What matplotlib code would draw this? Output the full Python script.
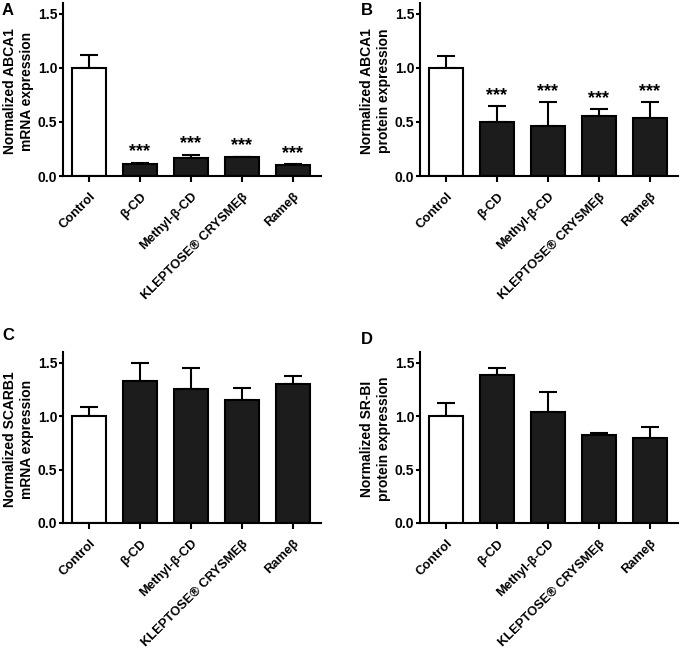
import matplotlib.pyplot as plt

plt.rcParams['font.family'] = ['Liberation Sans', 'DejaVu Sans']
plt.rcParams['font.weight'] = 'bold'

groups = ['Control', 'β-CD', 'Methyl-β-CD', 'KLEPTOSE® CRYSMEβ', 'Rameβ']

abca1_mrna = [1.0, 0.114, 0.167, 0.172, 0.099]
abca1_mrna_err = [0.115, 0.010, 0.030, 0.006, 0.009]

abca1_prot = [1.0, 0.50, 0.467, 0.554, 0.541]
abca1_prot_err = [0.11, 0.146, 0.213, 0.065, 0.139]

scarb1_mrna = [1.0, 1.33, 1.255, 1.153, 1.298]
scarb1_mrna_err = [0.082, 0.164, 0.192, 0.108, 0.075]

srbi_prot = [1.0, 1.382, 1.035, 0.827, 0.796]
srbi_prot_err = [0.122, 0.071, 0.192, 0.016, 0.103]

stars_a = ['', '***', '***', '***', '***']
stars_b = ['', '***', '***', '***', '***']

W, H = 680, 648
fig = plt.figure(figsize=(W / 100, H / 100), dpi=100)


def panel(px_left, px_bottom, px_top, vals, errs, ylabel, letter, letter_xy, stars=None):
    ax = fig.add_axes([px_left / W, 1 - px_bottom / H, 258 / W, (px_bottom - px_top) / H])
    x = list(range(len(groups)))
    colors = ['white'] + ['#1c1c1c'] * (len(groups) - 1)
    ax.bar(x, vals, width=0.68, color=colors, edgecolor='black', linewidth=1.5, zorder=2)
    ax.errorbar(x, vals, yerr=[[0] * len(vals), errs], fmt='none', ecolor='black',
                elinewidth=1.5, capsize=6.5, capthick=1.5, zorder=1)
    ax.set_xlim(-0.51, 4.55)
    ax.set_ylim(0, 1.6)
    ax.set_yticks([0.0, 0.5, 1.0, 1.5])
    ax.set_yticklabels(['0.0', '0.5', '1.0', '1.5'])
    ax.set_xticks(x)
    ax.set_xticklabels(groups, rotation=45, ha='right', rotation_mode='anchor')
    for s in ['top', 'right']:
        ax.spines[s].set_visible(False)
    for s in ['left', 'bottom']:
        ax.spines[s].set_linewidth(1.5)
    ax.tick_params(axis='y', length=3, width=1.5, labelsize=10, pad=1)
    ax.tick_params(axis='x', length=4.5, width=1.5, labelsize=9.3, pad=6)
    ax.set_ylabel(ylabel, fontsize=10, fontweight='bold', linespacing=1.3)
    ax.yaxis.set_label_coords(-0.112, 0.49)
    if stars:
        for xi, v, e, s in zip(x, vals, errs, stars):
            if s:
                ax.text(xi, v + e + 0.02, s, ha='center', va='bottom', fontsize=13,
                        fontweight='bold')
    fig.text(letter_xy[0] / W, 1 - letter_xy[1] / H, letter, fontsize=12,
             fontweight='bold', ha='left', va='top')
    return ax


panel(63, 176, 3, abca1_mrna, abca1_mrna_err, 'Normalized ABCA1\nmRNA expression', 'A', (2, 3), stars_a)
panel(420, 176, 3, abca1_prot, abca1_prot_err, 'Normalized ABCA1\nprotein expression', 'B', (361, 3), stars_b)
panel(63, 523, 352, scarb1_mrna, scarb1_mrna_err, 'Normalized SCARB1\nmRNA expression', 'C', (2, 328))
panel(420, 523, 352, srbi_prot, srbi_prot_err, 'Normalized SR-BI\nprotein expression', 'D', (361, 332))

fig.savefig('out.png', dpi=100)
